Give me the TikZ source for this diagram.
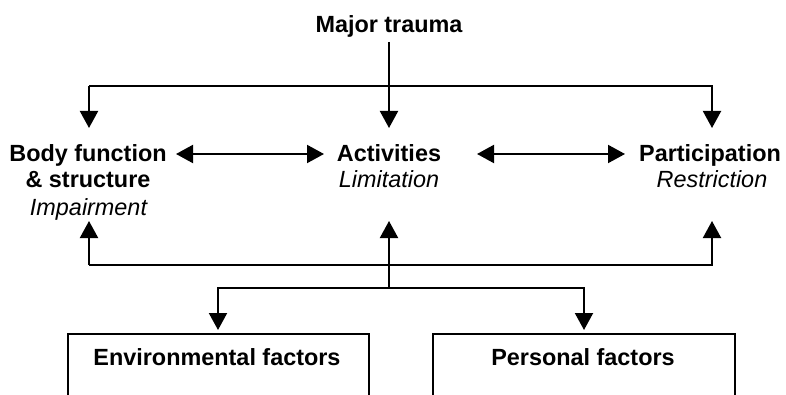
\documentclass[tikz,border=0pt]{standalone}
\usepackage{fontspec}
\setmainfont{Liberation Sans}
\usetikzlibrary{arrows.meta}
\begin{document}
\begin{tikzpicture}[x=1pt,y=-1pt,
 txt/.style={font=\fontsize{23.4}{27}\selectfont\bfseries, anchor=base, inner sep=0pt},
 itx/.style={font=\fontsize{23.4}{27}\selectfont\itshape, anchor=base, inner sep=0pt},
 conn/.style={line width=2pt},
 arr/.style={conn,-{Triangle[length=17pt,width=18pt]}},
 darr/.style={conn,{Triangle[length=17pt,width=18pt]}-{Triangle[length=17pt,width=18pt]}},
 factbox/.style={draw,line width=2pt,inner sep=0pt,anchor=north west}]
\useasboundingbox (0,0) rectangle (786,395);
\clip (0,0) rectangle (786,395);
% texts
\node[txt] (mt) at (389,33) {Major trauma};
\node[txt] (bodyA) at (88,162) {Body function};
\node[txt] (bodyB) at (88,188) {\& structure};
\node[itx] (bodyC) at (88.5,215) {Impairment};
\node[txt] (actA) at (389,162) {Activities};
\node[itx] (actB) at (389,188) {Limitation};
\node[txt] (parA) at (710,162) {Participation};
\node[itx] (parB) at (712,188) {Restriction};
% boxes
\node[factbox,minimum width=301pt,minimum height=80pt] (envbox) at (67,333) {};
\node[factbox,minimum width=302pt,minimum height=80pt] (perbox) at (432,333) {};
\node[txt] (env) at (217,365) {Environmental factors};
\node[txt] (per) at (583,365) {Personal factors};
% coordinates
\coordinate (mtb) at (389,42);
\coordinate (acttop) at (389,128);
\coordinate (tl) at (89,86);
\coordinate (tr) at (712,86);
\coordinate (bodytop) at (89,128);
\coordinate (partop) at (712,128);
\coordinate (bl) at (89,265);
\coordinate (br) at (712,265);
\coordinate (bodybot) at (89,221);
\coordinate (actbot) at (389,221);
\coordinate (parbot) at (712,221);
\coordinate (mid) at (389,288);
\coordinate (fl) at (218,288);
\coordinate (fr) at (584,288);
\coordinate (envtop) at (218,330);
\coordinate (pertop) at (584,330);
\coordinate (d1a) at (176,154);
\coordinate (d1b) at (324,154);
\coordinate (d2a) at (477,154);
\coordinate (d2b) at (625,154);
% connectors
\draw[arr] (mtb) -- (acttop);
\draw[arr] (tl) -- (bodytop);
\draw[arr] (tl) -- (tr) -- (partop);
\draw[darr] (d1a) -- (d1b);
\draw[darr] (d2a) -- (d2b);
\draw[arr] (bl) -- (bodybot);
\draw[arr] (bl) -- (br) -- (parbot);
\draw[arr] (mid) -- (actbot);
\draw[arr] (mid) -- (fl) -- (envtop);
\draw[arr] (mid) -- (fr) -- (pertop);
\end{tikzpicture}
\end{document}
